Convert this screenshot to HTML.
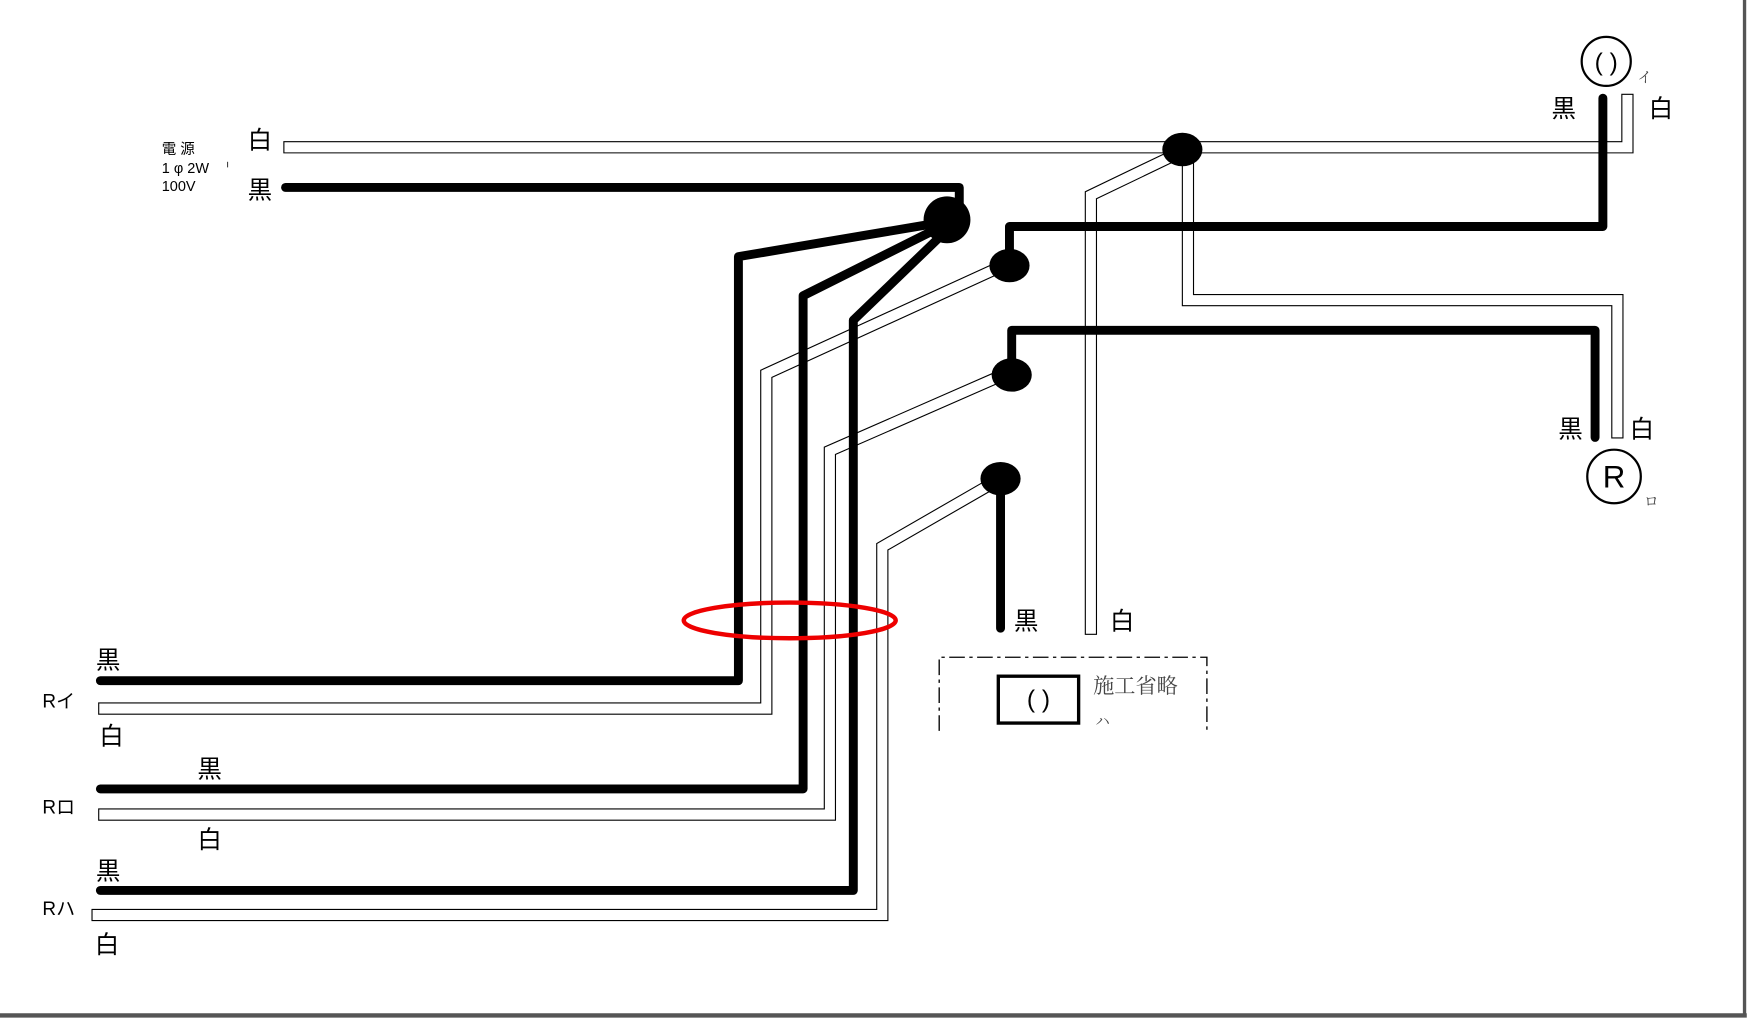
<!DOCTYPE html>
<html><head><meta charset="utf-8"><style>
html,body{margin:0;padding:0;background:#fff;}
svg{display:block;}
text{font-family:"Liberation Sans","Noto Sans CJK JP",sans-serif;fill:#000;}
.s{font-family:"Liberation Serif","Noto Serif CJK SC",serif;fill:#444;}
</style></head><body>
<svg width="1749" height="1021" viewBox="0 0 1568 915" preserveAspectRatio="none" xmlns="http://www.w3.org/2000/svg">
<rect width="1568" height="915" fill="#fff"/>
<!-- frame -->
<line x1="1564" y1="0" x2="1564" y2="910" stroke="#555" stroke-width="3"/>
<line x1="0" y1="910" x2="1566" y2="910" stroke="#555" stroke-width="4"/>

<!-- white wires (double line) -->
<g fill="none" stroke-linejoin="miter">
 <g stroke="#000" stroke-width="11">
  <path d="M254,132 H1459 V84"/>
  <path d="M1055,138 L978,175 V569"/>
  <path d="M1065,140 V269 H1450 V393"/>
  <path d="M895,240 L687,335 V635 H88"/>
  <path d="M897,337 L744,404 V730 H88"/>
  <path d="M890,433 L791,490 V820 H82"/>
 </g>
 <g stroke="#fff" stroke-width="9">
  <path d="M255,132 H1459 V85"/>
  <path d="M1055,138 L978,175 V568"/>
  <path d="M1065,140 V269 H1450 V392"/>
  <path d="M895,240 L687,335 V635 H89"/>
  <path d="M897,337 L744,404 V730 H89"/>
  <path d="M890,433 L791,490 V820 H83"/>
 </g>
</g>

<!-- black wires -->
<g fill="none" stroke="#000" stroke-width="8" stroke-linejoin="round" stroke-linecap="round">
 <path d="M256,168 H860 V192"/>
 <path d="M840,200 L662,230 V610 H90"/>
 <path d="M840,205 L720,265 V707 H90"/>
 <path d="M845,210 L765,287 V798 H90"/>
 <path d="M905,238 V203 H1437 V88"/>
 <path d="M907,335 V296 H1430 V392"/>
 <path d="M897,429 V563"/>
</g>

<!-- junctions -->
<g fill="#000">
 <ellipse cx="849" cy="197" rx="21" ry="21"/>
 <ellipse cx="1060" cy="134" rx="18" ry="15"/>
 <ellipse cx="905" cy="238" rx="18" ry="15"/>
 <ellipse cx="907" cy="336" rx="18" ry="15"/>
 <ellipse cx="897" cy="429" rx="18" ry="15"/>
</g>

<!-- red ellipse -->
<ellipse cx="708" cy="556" rx="95" ry="16" fill="none" stroke="#e00" stroke-width="4"/>

<!-- lamps -->
<circle cx="1440" cy="55" r="22" fill="#fff" stroke="#000" stroke-width="2"/>
<text x="1440" y="63" font-size="22" text-anchor="middle">( )</text>
<circle cx="1447" cy="427" r="24" fill="#fff" stroke="#000" stroke-width="2"/>
<text x="1447" y="437" font-size="28" text-anchor="middle">R</text>
<text x="1468" y="74" font-size="13" class="s">イ</text>
<text x="1474" y="454" font-size="13" class="s">ロ</text>

<!-- dashed box -->
<path d="M842,655 V589 H1082 V655" fill="none" stroke="#000" stroke-width="1.2" stroke-dasharray="14,4,3,4"/>
<rect x="895" y="606" width="72" height="42" fill="#fff" stroke="#000" stroke-width="3"/>
<text x="931" y="634" font-size="22" text-anchor="middle">( )</text>
<text x="980" y="621" font-size="19" class="s">施工省略</text>
<text x="982" y="651" font-size="13" class="s">ハ</text>

<!-- labels -->
<g font-size="22">
 <text x="222" y="133">白</text>
 <text x="222" y="178">黒</text>
 <text x="1391" y="105">黒</text>
 <text x="1478" y="105">白</text>
 <text x="1397" y="392">黒</text>
 <text x="1461" y="392">白</text>
 <text x="909" y="564">黒</text>
 <text x="995" y="564">白</text>
 <text x="86" y="599">黒</text>
 <text x="89" y="667">白</text>
 <text x="177" y="697">黒</text>
 <text x="177" y="760">白</text>
 <text x="86" y="788">黒</text>
 <text x="85" y="854">白</text>
</g>
<g font-size="17">
 <text x="38" y="634">Rイ</text>
 <text x="38" y="729">Rロ</text>
 <text x="38" y="820">Rハ</text>
</g>
<g font-size="13" class="s">
 <text x="145" y="138">電 源</text>
 <text x="145" y="155">1 φ 2W</text>
 <text x="145" y="171">100V</text>
</g>
<line x1="204" y1="145" x2="204" y2="150" stroke="#444" stroke-width="1"/>
</svg>
</body></html>
